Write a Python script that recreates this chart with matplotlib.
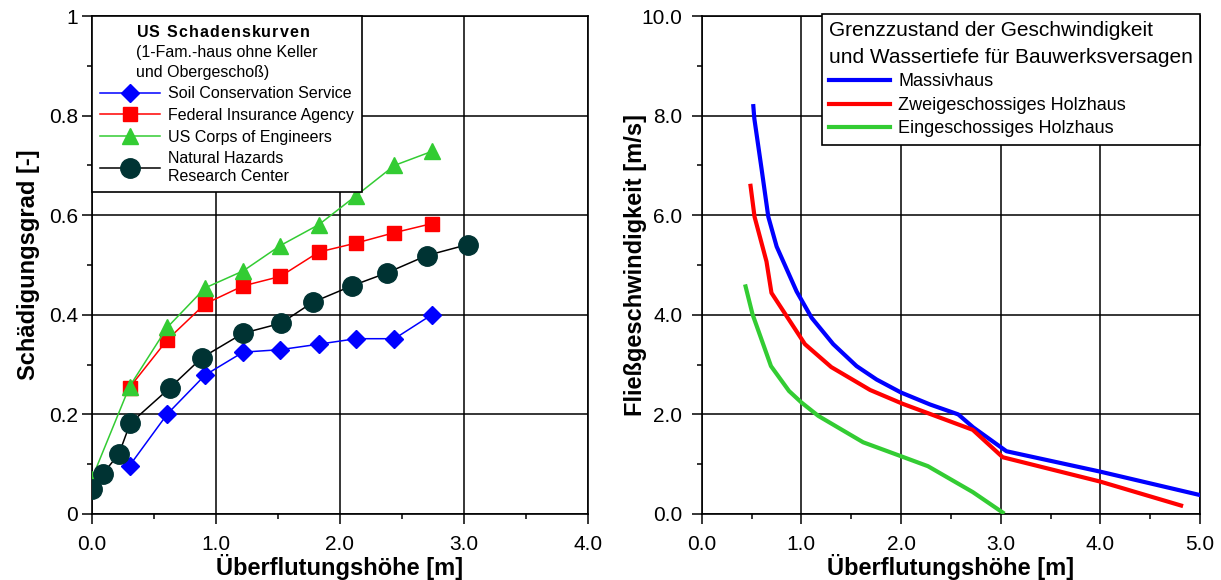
import numpy as np
import matplotlib
matplotlib.use("Agg")
import matplotlib.pyplot as plt
from matplotlib.ticker import MultipleLocator, FixedLocator, FixedFormatter

plt.rcParams["font.family"] = ["Liberation Sans", "DejaVu Sans"]
plt.rcParams["mathtext.fontset"] = "custom"
plt.rcParams["mathtext.rm"] = "Liberation Sans"
plt.rcParams["mathtext.bf"] = "Liberation Sans:bold"

# --- left: US damage curves (depth in m, damage ratio) ---
FT_X = [0.305, 0.61, 0.914, 1.22, 1.52, 1.83, 2.13, 2.44, 2.74]
SCS_Y = [0.097, 0.201, 0.279, 0.325, 0.330, 0.341, 0.352, 0.352, 0.400]
FIA_Y = [0.254, 0.350, 0.422, 0.458, 0.477, 0.526, 0.544, 0.565, 0.583]
USACE_X = [0.0, 0.305, 0.61, 0.914, 1.22, 1.52, 1.83, 2.13, 2.44, 2.74]
USACE_Y = [0.070, 0.256, 0.375, 0.454, 0.488, 0.539, 0.581, 0.639, 0.700, 0.728]
NHRC_X = [0.0, 0.088, 0.22, 0.31, 0.633, 0.889, 1.22, 1.525, 1.78, 2.095, 2.377, 2.70, 3.03]
NHRC_Y = [0.050, 0.080, 0.121, 0.182, 0.254, 0.314, 0.363, 0.383, 0.425, 0.458, 0.484, 0.519, 0.541]

# --- right: failure thresholds (depth in m, velocity in m/s) ---
MASSIV_X = [0.518, 0.528, 0.60, 0.668, 0.752, 0.952, 1.103, 1.32, 1.554, 1.755, 1.999, 2.29, 2.574, 2.724, 3.058, 4.0, 5.0]
MASSIV_Y = [8.19, 7.94, 6.94, 5.97, 5.37, 4.47, 3.94, 3.41, 2.97, 2.70, 2.44, 2.20, 2.00, 1.74, 1.26, 0.85, 0.38]
HOLZ2_X = [0.49, 0.53, 0.65, 0.70, 1.036, 1.30, 1.69, 2.02, 2.29, 2.72, 3.02, 4.0, 4.81]
HOLZ2_Y = [6.59, 5.97, 5.07, 4.44, 3.41, 2.95, 2.49, 2.21, 2.01, 1.69, 1.14, 0.65, 0.17]
HOLZ1_X = [0.44, 0.51, 0.695, 0.876, 1.0, 1.17, 1.62, 2.0, 2.27, 2.72, 3.02]
HOLZ1_Y = [4.57, 4.01, 2.97, 2.47, 2.24, 1.97, 1.44, 1.16, 0.96, 0.44, 0.03]

LEFT_YTICKS = [0, 0.2, 0.4, 0.6, 0.8, 1.0]
LEFT_YLABELS = ["0", "0.2", "0.4", "0.6", "0.8", "1"]

LEG1_TITLE = "US Schadenskurven"
LEG1_SUB = "(1-Fam.-haus ohne Keller\nund Obergeschoß)"


def spaced_bold(s, gap=0.07):
    # bold mathtext with a little letter spacing
    parts = [r"\mathbf{\ }" if c == " " else r"\mathbf{%s}" % c for c in s]
    return "$" + (r"\hspace{%g}" % gap).join(parts) + "$"


fig = plt.figure(figsize=(12.21, 5.8), dpi=100)
ax1 = fig.add_axes([0.0751, 0.1138, 0.4065, 0.8586])
ax2 = fig.add_axes([0.5747, 0.1138, 0.4081, 0.8586])


def style_axes(ax, xmax, ymax, xmaj, xmin, ymaj, ymin):
    ax.set_xlim(0, xmax)
    ax.set_ylim(0, ymax)
    ax.xaxis.set_major_locator(MultipleLocator(xmaj))
    ax.xaxis.set_minor_locator(MultipleLocator(xmin))
    ax.yaxis.set_major_locator(MultipleLocator(ymaj))
    ax.yaxis.set_minor_locator(MultipleLocator(ymin))
    ax.grid(True, which="major", color="black", linewidth=1.1)
    ax.set_axisbelow(True)
    for s in ax.spines.values():
        s.set_linewidth(1.2)
    ax.tick_params(which="major", direction="out", length=7, width=1.1, labelsize=15)
    ax.tick_params(which="minor", direction="out", length=3.5, width=1.1)
    ax.tick_params(axis="x", pad=8)
    ax.tick_params(axis="y", pad=3)
    ax.set_xlabel("Überflutungshöhe [m]", fontsize=17, fontweight="bold", labelpad=0)


style_axes(ax1, 4.0, 1.0, 1.0, 0.5, 0.2, 0.1)
ax1.xaxis.set_major_formatter(plt.FuncFormatter(lambda v, p: f"{v:.1f}"))
ax1.yaxis.set_major_locator(FixedLocator(LEFT_YTICKS))
ax1.yaxis.set_major_formatter(FixedFormatter(LEFT_YLABELS))
ax1.set_ylabel("Schädigungsgrad [-]", fontsize=17, fontweight="bold", labelpad=6)

ax1.plot(FT_X, SCS_Y, color="#0000ff", lw=1.1, marker="D", ms=9.5,
         label="Soil Conservation Service", zorder=3)
ax1.plot(FT_X, FIA_Y, color="#ff0000", lw=1.1, marker="s", ms=10,
         label="Federal Insurance Agency", zorder=3)
ax1.plot(USACE_X, USACE_Y, color="#33cc33", lw=1.1, marker="^", ms=11,
         label="US Corps of Engineers", zorder=3)
ax1.plot(NHRC_X, NHRC_Y, color="black", lw=1.1, marker="o", ms=14,
         markerfacecolor="#003333", markeredgecolor="#003333",
         label="Natural Hazards\nResearch Center", zorder=4)

leg1 = ax1.legend(loc="upper left", borderaxespad=0, fontsize=11.5,
                  title=spaced_bold(LEG1_TITLE) + "\n" + LEG1_SUB,
                  title_fontsize=11.5, handlelength=3.8, handletextpad=0.5,
                  labelspacing=0.42, borderpad=0.5, fancybox=False,
                  edgecolor="black", framealpha=1)
leg1.get_frame().set_linewidth(1.2)
leg1.get_title().set_multialignment("left")
leg1.get_title().set_linespacing(1.4)

style_axes(ax2, 5.0, 10.0, 1.0, 0.5, 2.0, 1.0)
ax2.xaxis.set_major_formatter(plt.FuncFormatter(lambda v, p: f"{v:.1f}"))
ax2.yaxis.set_major_formatter(plt.FuncFormatter(lambda v, p: f"{v:.1f}"))
ax2.tick_params(axis="y", pad=7)
ax2.set_ylabel("Fließgeschwindigkeit [m/s]", fontsize=17, fontweight="bold", labelpad=-4)

ax2.plot(MASSIV_X, MASSIV_Y, color="#0000ff", lw=3, label="Massivhaus", zorder=3)
ax2.plot(HOLZ2_X, HOLZ2_Y, color="#ff0000", lw=3, label="Zweigeschossiges Holzhaus", zorder=3)
ax2.plot(HOLZ1_X, HOLZ1_Y, color="#33cc33", lw=3, label="Eingeschossiges Holzhaus", zorder=3)

leg2 = ax2.legend(loc="upper right", bbox_to_anchor=(1.0, 1.005), borderaxespad=0,
                  fontsize=13, title="Grenzzustand der Geschwindigkeit\nund Wassertiefe für Bauwerksversagen",
                  title_fontsize=15, alignment="left", handlelength=3.4, handletextpad=0.45,
                  labelspacing=0.36, borderpad=0.4, fancybox=False,
                  edgecolor="black", framealpha=1)
leg2.get_frame().set_linewidth(1.2)
leg2.get_title().set_multialignment("left")
leg2.get_title().set_linespacing(1.55)

fig.savefig("out.png", dpi=100)
